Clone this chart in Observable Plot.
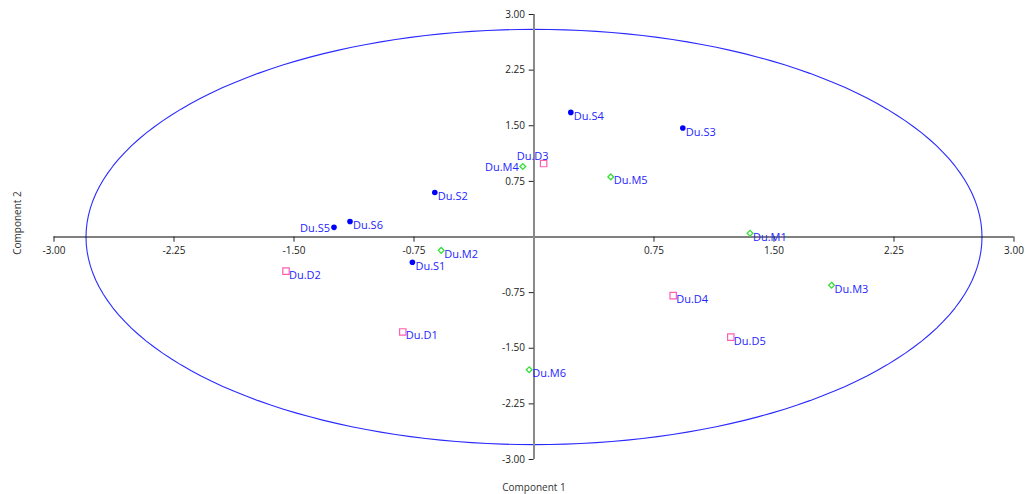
<!DOCTYPE html>
<html>
<head>
<meta charset="utf-8">
<script src="https://cdn.jsdelivr.net/npm/d3@7"></script>
<script src="https://cdn.jsdelivr.net/npm/@observablehq/plot@0.6"></script>
<style>
  html, body { margin: 0; padding: 0; background: #fff; }
  #chart svg { display: block; }
</style>
</head>
<body>
<div id="chart"></div>
<script>
// ---- data ----
const sampleNames = ["Du.S1","Du.S2","Du.S3","Du.S4","Du.S5","Du.S6",
                     "Du.D1","Du.D2","Du.D3","Du.D4","Du.D5",
                     "Du.M1","Du.M2","Du.M3","Du.M4","Du.M5","Du.M6"];
const sampleGroups = ["S","S","S","S","S","S",
                      "D","D","D","D","D",
                      "M","M","M","M","M","M"];
const component1 = [-0.76,-0.62, 0.93, 0.23,-1.25,-1.15,
                    -0.82,-1.55, 0.06, 0.87, 1.23,
                     1.35,-0.58, 1.86,-0.07, 0.48,-0.03];
const component2 = [-0.34, 0.60, 1.47, 1.68, 0.13, 0.21,
                    -1.28,-0.46, 0.99,-0.79,-1.35,
                     0.05,-0.18,-0.65, 0.95, 0.81,-1.79];
const xTickValues = [-3, -2.25, -1.5, -0.75, 0.75, 1.5, 2.25, 3];
const yTickValues = [3, 2.25, 1.5, 0.75, -0.75, -1.5, -2.25, -3];
const ellipseRadiusX = 2.8;
const ellipseRadiusY = 2.8;
const axisTitleX = "Component 1";
const axisTitleY = "Component 2";

// ---- derived tables ----
const samples = sampleNames.map((name, i) => ({
  name, group: sampleGroups[i], c1: component1[i], c2: component2[i]
}));
const ellipse = d3.range(0, 361, 2).map(a => {
  const t = a * Math.PI / 180;
  return {x: ellipseRadiusX * Math.cos(t), y: ellipseRadiusY * Math.sin(t)};
});
const fmt = d => d.toFixed(2);

const labelLeft = new Set(["Du.S5", "Du.M4"]);
const labelAbove = new Set(["Du.D3"]);

const font = "'Open Sans', 'Noto Sans', sans-serif";
const labelColor = "#2424ff";
const tickColor = "#222";

const chart = Plot.plot({
  width: 1026,
  height: 494,
  marginLeft: 53.5,
  marginRight: 12.5,
  marginTop: 14,
  marginBottom: 35,
  style: {fontFamily: font, background: "#fff"},
  x: {domain: [-3, 3], axis: null},
  y: {domain: [-3, 3], axis: null},
  marks: [
    // confidence ellipse
    Plot.line(ellipse, {x: "x", y: "y", stroke: "#2a2aff", strokeWidth: 1.1, curve: "linear"}),
    // x axis line through origin
    Plot.ruleY([0], {x1: -3, x2: 3, stroke: "#000", strokeWidth: 1}),
    // y axis line through origin
    Plot.ruleX([0], {y1: -3, y2: 3, stroke: "#8a8a8a", strokeWidth: 2}),
    // x ticks
    Plot.ruleX(xTickValues, {x: d => d, y1: 0, y2: -0.07, stroke: "#222", strokeWidth: 1}),
    Plot.text(xTickValues, {x: d => d, y: 0, text: fmt, dy: 14, fontSize: 10, fill: tickColor, textAnchor: "middle"}),
    // y ticks
    Plot.ruleY(yTickValues, {y: d => d, x1: 0, x2: -0.03, stroke: "#222", strokeWidth: 1}),
    Plot.text(yTickValues, {x: 0, y: d => d, text: fmt, dx: -9, fontSize: 10, fill: tickColor, textAnchor: "end"}),
    // points
    Plot.dot(samples.filter(d => d.group === "S"), {x: "c1", y: "c2", r: 2.8, fill: "#0000ff", stroke: "none"}),
    Plot.dot(samples.filter(d => d.group === "D"), {x: "c1", y: "c2", symbol: "square", r: 3.6, fill: "none", stroke: "#ff5fb0", strokeWidth: 1.2}),
    Plot.dot(samples.filter(d => d.group === "M"), {x: "c1", y: "c2", symbol: "diamond2", r: 2.6, fill: "none", stroke: "#33e033", strokeWidth: 1.3}),
    // labels
    Plot.text(samples.filter(d => !labelLeft.has(d.name) && !labelAbove.has(d.name)),
      {x: "c1", y: "c2", text: "name", dx: 3, dy: 4, textAnchor: "start", fontSize: 11, fill: labelColor}),
    Plot.text(samples.filter(d => labelLeft.has(d.name)),
      {x: "c1", y: "c2", text: "name", dx: -4, dy: 1, textAnchor: "end", fontSize: 11, fill: labelColor}),
    Plot.text(samples.filter(d => labelAbove.has(d.name)),
      {x: "c1", y: "c2", text: "name", dx: -11, dy: -7, textAnchor: "middle", fontSize: 11, fill: labelColor}),
    // axis titles
    Plot.text([axisTitleX], {x: 0, frameAnchor: "bottom", text: d => d, dy: 31, fontSize: 10, fill: "#333", textAnchor: "middle"}),
    Plot.text([axisTitleY], {frameAnchor: "left", text: d => d, dx: -36, dy: -14, rotate: -90, fontSize: 10, fill: "#333", textAnchor: "middle"})
  ]
});
document.getElementById("chart").appendChild(chart);
</script>
</body>
</html>
